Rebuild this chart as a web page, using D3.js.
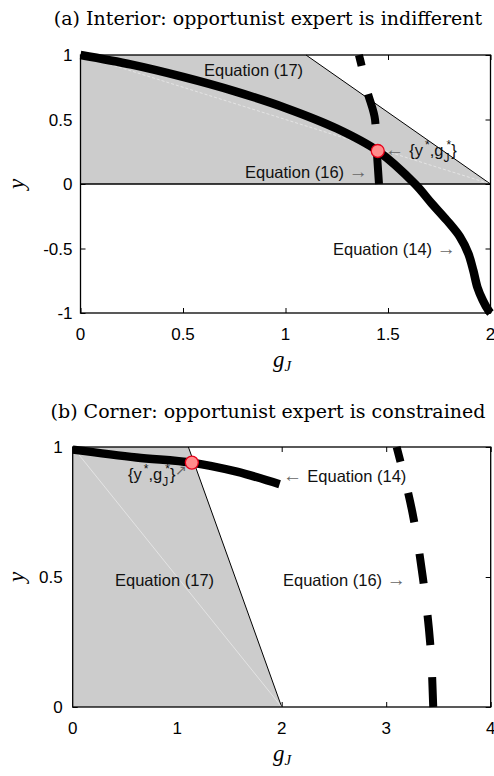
<!DOCTYPE html>
<html>
<head>
<meta charset="utf-8">
<script src="https://cdn.jsdelivr.net/npm/d3@7"></script>
<style>
  body { margin: 0; background: #fff; }
  .tick-lbl { font-family: 'Liberation Sans', Arial, sans-serif; font-size: 17px; }
  .note { font-family: 'Liberation Sans', Arial, sans-serif; font-size: 16.5px; fill: #111; }
  .title { font-family: 'DejaVu Serif', serif; font-size: 19px; }
  .axis-title { font-family: 'Liberation Serif', serif; font-style: italic; font-size: 23px; }
</style>
</head>
<body>
<div id="chart"></div>
<script>
// panel (a): interior
const topXTicks = [0, 0.5, 1, 1.5, 2]
const topYTicks = [-1, -0.5, 0, 0.5, 1]
const topRegion17 = [[0, 0], [0, 1], [1.1, 1], [2, 0]]
const topEq14 = [[0, 1], [0.25, 0.925], [0.5, 0.83], [0.75, 0.72], [1, 0.59], [1.25, 0.43],
  [1.45, 0.256], [1.632, 0], [1.713, -0.15], [1.786, -0.28], [1.851, -0.41], [1.892, -0.54],
  [1.916, -0.67], [1.936, -0.8], [1.962, -0.9], [1.99, -0.98], [2, -1]]
const topEq16 = [[1.456, 0], [1.445, 0.264], [1.437, 0.496], [1.4, 0.713], [1.363, 0.97], [1.358, 1]]
const topEquilibrium = [1.45, 0.256]

// panel (b): corner
const botXTicks = [0, 1, 2, 3, 4]
const botYTicks = [0, 0.5, 1]
const botRegion17 = [[0, 0], [0, 1], [1.107, 1], [2, 0]]
const botEq14 = [[0, 0.99], [0.61, 0.96], [1.14, 0.94], [1.57, 0.905], [1.98, 0.857]]
const botEq16 = [[3.45, 0], [3.42, 0.25], [3.35, 0.5], [3.25, 0.75], [3.1, 1]]
const botEquilibrium = [1.14, 0.94]

const W = 494
const H = 776

const svg = d3
  .select('#chart')
  .append('svg')
  .attr('width', W)
  .attr('height', H)

function drawPanel(opts) {
  const x = d3.scaleLinear().domain(opts.xDomain).range([opts.left, opts.right])
  const y = d3.scaleLinear().domain(opts.yDomain).range([opts.bottom, opts.top])
  const g = svg.append('g')

  // inward tick marks on all four sides
  g.append('g')
    .attr('transform', 'translate(0,' + opts.bottom + ')')
    .call(d3.axisBottom(x).tickValues(opts.xTicks).tickSize(-5).tickFormat(''))
  g.append('g')
    .attr('transform', 'translate(0,' + opts.top + ')')
    .call(d3.axisTop(x).tickValues(opts.xTicks).tickSize(-5).tickFormat(''))
  g.append('g')
    .attr('transform', 'translate(' + opts.left + ',0)')
    .call(d3.axisLeft(y).tickValues(opts.yTicks).tickSize(-5).tickFormat(''))
  g.append('g')
    .attr('transform', 'translate(' + opts.right + ',0)')
    .call(d3.axisRight(y).tickValues(opts.yTicks).tickSize(-5).tickFormat(''))
  g.selectAll('.domain').remove()

  // shaded region, equation (17)
  g.append('path')
    .datum(opts.region)
    .attr('d', d3.line().x(d => x(d[0])).y(d => y(d[1])))
    .attr('fill', '#cccccc')
    .attr('stroke', 'none')
  g.append('line')
    .attr('x1', x(opts.region[2][0])).attr('y1', y(opts.region[2][1]))
    .attr('x2', x(opts.region[3][0])).attr('y2', y(opts.region[3][1]))
    .attr('stroke', '#000')
    .attr('stroke-width', 1)
  // faint diagonal inside the shaded area
  g.append('line')
    .attr('x1', x(0)).attr('y1', y(1))
    .attr('x2', x(2)).attr('y2', y(0))
    .attr('stroke', '#eeeeee')
    .attr('stroke-width', 0.7)
    .attr('stroke-dasharray', opts.faintDash)

  // frame
  g.append('rect')
    .attr('x', opts.left).attr('y', opts.top)
    .attr('width', opts.right - opts.left)
    .attr('height', opts.bottom - opts.top)
    .attr('fill', 'none')
    .attr('stroke', '#000')
    .attr('stroke-width', 1.3)
  if (opts.zeroLine) {
    g.append('line')
      .attr('x1', opts.left).attr('x2', opts.right)
      .attr('y1', y(0)).attr('y2', y(0))
      .attr('stroke', '#000')
      .attr('stroke-width', 1.3)
  }

  // tick labels
  g.selectAll('.xlbl')
    .data(opts.xTicks)
    .enter()
    .append('text')
    .attr('class', 'tick-lbl')
    .attr('x', d => x(d))
    .attr('y', opts.bottom + 27)
    .attr('text-anchor', 'middle')
    .text(d => d)
  g.selectAll('.ylbl')
    .data(opts.yTicks)
    .enter()
    .append('text')
    .attr('class', 'tick-lbl')
    .attr('x', opts.left - opts.yLabelGap)
    .attr('y', d => y(d) + 6)
    .attr('text-anchor', 'end')
    .text(d => d)

  // curves
  const line = d3.line().curve(d3.curveMonotoneY).x(d => x(d[0])).y(d => y(d[1]))
  const lineX = d3.line().curve(d3.curveCatmullRom).x(d => x(d[0])).y(d => y(d[1]))
  g.append('path')
    .datum(opts.eq14)
    .attr('d', lineX)
    .attr('fill', 'none')
    .attr('stroke', '#000')
    .attr('stroke-width', 8.5)
  g.append('path')
    .datum(opts.eq16)
    .attr('d', line)
    .attr('fill', 'none')
    .attr('stroke', '#000')
    .attr('stroke-width', 8)
    .attr('stroke-dasharray', opts.eq16Dash)

  g.append('circle')
    .attr('cx', x(opts.point[0]))
    .attr('cy', y(opts.point[1]))
    .attr('r', 6.5)
    .attr('fill', '#ff8c8c')
    .attr('stroke', '#e8001a')
    .attr('stroke-width', 1.3)

  // titles
  svg.append('text')
    .attr('class', 'title')
    .attr('x', opts.titleX)
    .attr('y', opts.titleY)
    .attr('text-anchor', 'middle')
    .text(opts.title)
  svg.append('text')
    .attr('class', 'axis-title')
    .attr('transform', 'translate(' + 24 + ',' + ((opts.top + opts.bottom) / 2) + ') rotate(-90)')
    .attr('text-anchor', 'middle')
    .text('y')
  const xt = svg.append('text')
    .attr('class', 'axis-title')
    .attr('x', 282)
    .attr('y', opts.bottom + 54)
    .attr('text-anchor', 'middle')
  xt.append('tspan').text('g')
  xt.append('tspan').attr('font-size', 15).attr('dy', 4).text('J')

  return { x, y, g }
}

// {y*, gJ*} with the stars raised and J lowered
function equilibriumLabel(g, px, py, arrowBefore, arrowAfter) {
  const t = g.append('text').attr('class', 'note').attr('font-size', 18).attr('x', px).attr('y', py)
  if (arrowBefore) t.append('tspan').attr('fill', '#666').attr('font-size', 19).text(arrowBefore + ' ')
  t.append('tspan').text('{y')
  t.append('tspan').attr('font-size', 12).attr('dy', -7).attr('dx', 2).text('*')
  t.append('tspan').attr('dy', 7).text(',g')
  t.append('tspan').attr('font-size', 12).attr('dy', 6).text('J')
  t.append('tspan').attr('font-size', 12).attr('dy', -13).attr('dx', -3).text('*')
  t.append('tspan').attr('dy', 7).text('}')
  if (arrowAfter) t.append('tspan').attr('fill', '#666').attr('font-size', 14).attr('dy', -5).text(arrowAfter)
}

function note(g, px, py, parts) {
  const t = g.append('text').attr('class', 'note').attr('x', px).attr('y', py)
  parts.forEach(p => {
    t.append('tspan')
      .attr('fill', p.grey ? '#666' : '#111')
      .attr('font-size', p.grey ? 19 : null)
      .text(p.s)
  })
}

const a = drawPanel({
  xDomain: [0, 2], yDomain: [-1, 1],
  left: 80.5, right: 490.5, top: 55, bottom: 313,
  xTicks: topXTicks, yTicks: topYTicks, yLabelGap: 8,
  region: topRegion17, eq14: topEq14, eq16: topEq16, point: topEquilibrium,
  eq16Dash: '31,29', faintDash: '3,2', zeroLine: true,
  title: '(a) Interior: opportunist expert is indifferent', titleX: 268, titleY: 25
})
note(a.g, 204, 76, [{ s: 'Equation (17)' }])
note(a.g, 245, 178, [{ s: 'Equation (16) ' }, { s: '→', grey: true }])
note(a.g, 333, 255, [{ s: 'Equation (14) ' }, { s: '→', grey: true }])
equilibriumLabel(a.g, 385, 156, '←', null)

const b = drawPanel({
  xDomain: [0, 4], yDomain: [0, 1],
  left: 72.7, right: 490.7, top: 447, bottom: 707,
  xTicks: botXTicks, yTicks: botYTicks, yLabelGap: 10,
  region: botRegion17, eq14: botEq14, eq16: botEq16, point: botEquilibrium,
  eq16Dash: '30,32', faintDash: null, zeroLine: false,
  title: '(b) Corner: opportunist expert is constrained', titleX: 268, titleY: 418
})
note(b.g, 115, 586, [{ s: 'Equation (17)' }])
note(b.g, 283, 586, [{ s: 'Equation (16) ' }, { s: '→', grey: true }])
note(b.g, 283, 482, [{ s: '← ', grey: true }, { s: 'Equation (14)' }])
equilibriumLabel(b.g, 128, 480, null, '↗')
</script>
</body>
</html>
